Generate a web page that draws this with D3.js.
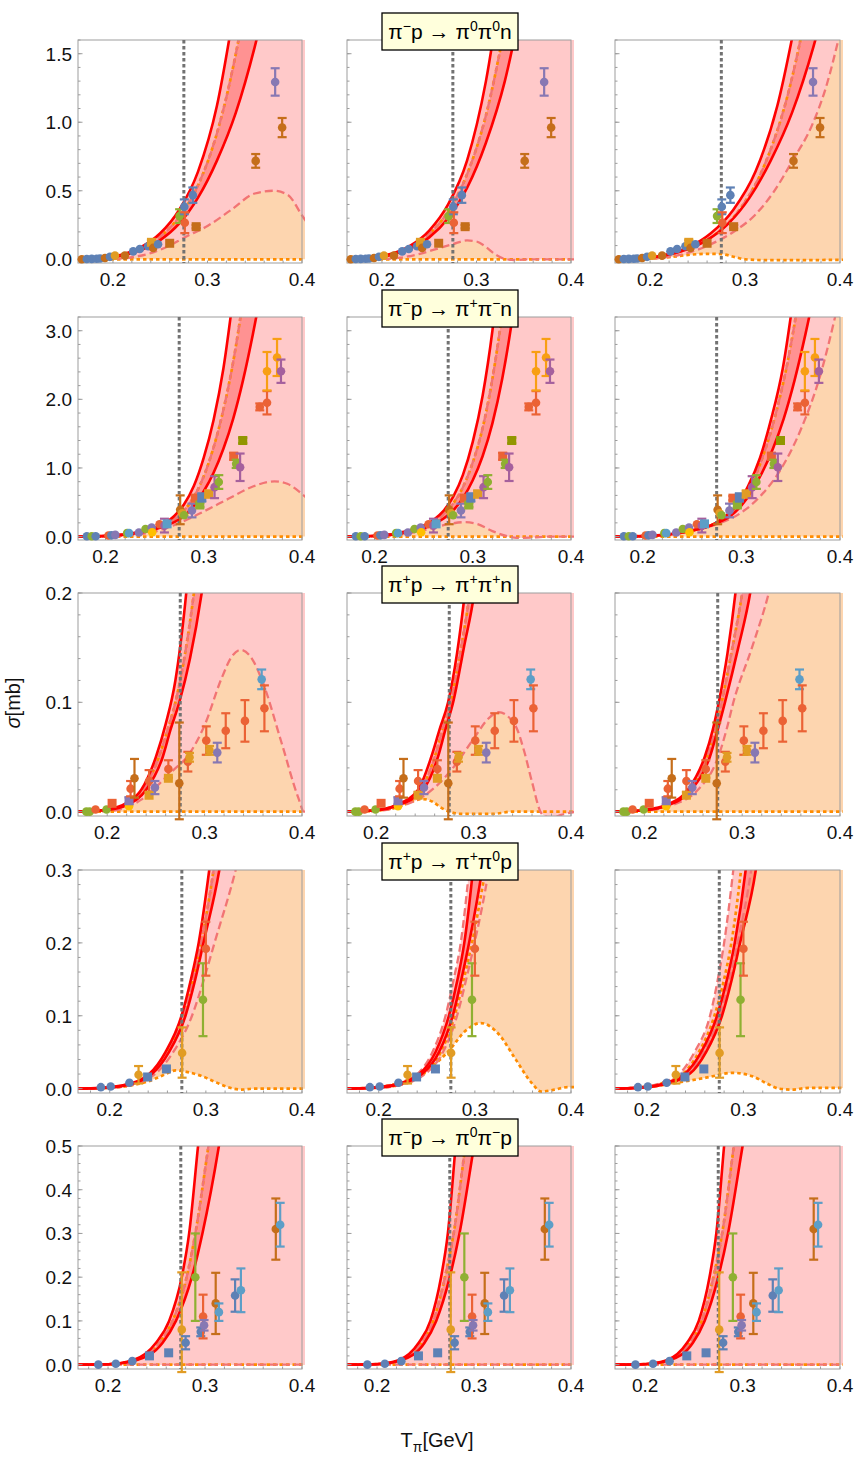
<!DOCTYPE html>
<html>
<head>
<meta charset="utf-8">
<script src="https://cdn.jsdelivr.net/npm/d3@7"></script>
<style>
  body { margin: 0; background: #fff; }
  svg { display: block; }
  text { font-family: "Liberation Sans", Arial, sans-serif; }
</style>
</head>
<body>
<div id="chart"></div>
<script>
// ---- data ----
// each curve is a list of [T_pi (GeV), sigma (mb)], one list per column
const r1RedHi = [
  [[0.163,0],[0.19,0.01],[0.21,0.035],[0.23,0.09],[0.25,0.19],[0.27,0.36],[0.29,0.64],[0.31,1.12],[0.33,1.9]],
  [[0.163,0],[0.19,0.012],[0.21,0.04],[0.23,0.1],[0.25,0.21],[0.27,0.4],[0.29,0.72],[0.31,1.3],[0.33,2.2]],
  [[0.163,0],[0.194,0.01],[0.2175,0.035],[0.241,0.09],[0.264,0.19],[0.2875,0.36],[0.311,0.64],[0.334,1.12],[0.3576,1.9]]
]
const r1RedLo = [
  [[0.163,0],[0.19,0.008],[0.21,0.028],[0.23,0.07],[0.25,0.14],[0.27,0.26],[0.29,0.45],[0.31,0.72],[0.33,1.07],[0.35,1.55],[0.37,2.15]],
  [[0.163,0],[0.19,0.009],[0.21,0.032],[0.23,0.08],[0.25,0.16],[0.27,0.3],[0.29,0.52],[0.31,0.85],[0.33,1.3],[0.35,1.95]],
  [[0.163,0],[0.193,0.008],[0.2153,0.028],[0.2377,0.07],[0.26,0.14],[0.2824,0.26],[0.3048,0.45],[0.327,0.72],[0.3495,1.07],[0.372,1.55],[0.394,2.15]]
]
const r1Mid = [
  [[0.163,0],[0.19,0.009],[0.21,0.032],[0.23,0.08],[0.25,0.165],[0.27,0.31],[0.29,0.54],[0.31,0.92],[0.33,1.5],[0.35,2.3]],
  [[0.163,0],[0.19,0.01],[0.21,0.036],[0.23,0.09],[0.25,0.185],[0.27,0.35],[0.29,0.62],[0.31,1.05],[0.33,1.7]],
  [[0.163,0],[0.195,0.01],[0.22,0.035],[0.245,0.09],[0.27,0.19],[0.295,0.37],[0.32,0.68],[0.345,1.2],[0.37,2.0]]
]
const r1PinkLo = [
  [[0.163,0],[0.2,0.003],[0.22,0.015],[0.24,0.045],[0.26,0.1],[0.275,0.157],[0.3,0.243],[0.325,0.36],[0.35,0.48],[0.37,0.5],[0.385,0.47],[0.4,0.32],[0.405,0.27]],
  [[0.163,0],[0.2,0.003],[0.22,0.012],[0.24,0.04],[0.26,0.08],[0.275,0.11],[0.29,0.138],[0.3,0.13],[0.31,0.09],[0.32,0.035],[0.33,0.002],[0.34,-0.005],[0.36,0],[0.405,0]],
  [[0.163,0],[0.2,0.005],[0.23,0.03],[0.25,0.07],[0.27,0.13],[0.29,0.21],[0.31,0.32],[0.33,0.49],[0.35,0.72],[0.37,0.97],[0.385,1.25],[0.4,1.65]]
]
const r1OrLo = [
  [[0.163,0],[0.405,0]],
  [[0.163,0],[0.405,0]],
  [[0.163,0],[0.2,0.005],[0.22,0.015],[0.24,0.032],[0.26,0.04],[0.275,0.038],[0.29,0.015],[0.3,0],[0.32,-0.006],[0.36,-0.006],[0.405,-0.003]]
]

const r2RedHi = [
  [[0.172,0],[0.2,0.01],[0.22,0.035],[0.24,0.09],[0.26,0.19],[0.27,0.3],[0.28,0.47],[0.29,0.74],[0.3,1.15],[0.31,1.7],[0.32,2.45],[0.33,3.5]],
  [[0.172,0],[0.2,0.012],[0.22,0.042],[0.24,0.11],[0.26,0.24],[0.27,0.37],[0.28,0.58],[0.29,0.9],[0.3,1.38],[0.31,2.05],[0.32,3.0],[0.33,4.3]],
  [[0.172,0],[0.204,0.01],[0.227,0.035],[0.25,0.09],[0.273,0.19],[0.284,0.3],[0.296,0.47],[0.307,0.74],[0.319,1.15],[0.33,1.7],[0.342,2.45],[0.353,3.5]]
]
const r2RedLo = [
  [[0.172,0],[0.2,0.008],[0.22,0.028],[0.24,0.07],[0.26,0.15],[0.27,0.21],[0.28,0.3],[0.29,0.45],[0.3,0.66],[0.31,0.93],[0.32,1.28],[0.33,1.72],[0.34,2.28],[0.35,2.95],[0.36,3.7]],
  [[0.172,0],[0.2,0.009],[0.22,0.032],[0.24,0.08],[0.26,0.18],[0.27,0.26],[0.28,0.38],[0.29,0.56],[0.3,0.82],[0.31,1.17],[0.32,1.65],[0.33,2.3],[0.34,3.15],[0.35,4.2]],
  [[0.172,0],[0.202,0.008],[0.224,0.028],[0.2455,0.07],[0.267,0.15],[0.278,0.21],[0.289,0.3],[0.3,0.45],[0.3105,0.66],[0.321,0.93],[0.332,1.28],[0.343,1.72],[0.354,2.28],[0.365,2.95],[0.376,3.7]]
]
const r2Mid = [
  [[0.172,0],[0.2,0.009],[0.22,0.032],[0.24,0.08],[0.26,0.17],[0.28,0.38],[0.29,0.58],[0.3,0.88],[0.31,1.3],[0.32,1.85],[0.33,2.55],[0.34,3.45]],
  [[0.172,0],[0.2,0.01],[0.22,0.037],[0.24,0.095],[0.26,0.21],[0.27,0.32],[0.28,0.48],[0.29,0.72],[0.3,1.08],[0.31,1.58],[0.32,2.3],[0.33,3.25],[0.34,4.4]],
  [[0.172,0],[0.203,0.009],[0.2255,0.032],[0.248,0.08],[0.27,0.17],[0.292,0.38],[0.303,0.58],[0.314,0.88],[0.325,1.3],[0.336,1.85],[0.347,2.55],[0.358,3.45]]
]
const r2PinkLo = [
  [[0.172,0],[0.2,0.003],[0.225,0.02],[0.25,0.073],[0.275,0.195],[0.3,0.366],[0.325,0.55],[0.35,0.73],[0.372,0.805],[0.385,0.77],[0.4,0.62],[0.405,0.56]],
  [[0.172,0],[0.2,0.005],[0.22,0.02],[0.24,0.06],[0.255,0.11],[0.275,0.18],[0.292,0.21],[0.305,0.18],[0.32,0.08],[0.335,0.005],[0.345,-0.02],[0.36,-0.015],[0.38,0],[0.405,0]],
  [[0.172,0],[0.2,0.005],[0.225,0.03],[0.25,0.08],[0.275,0.18],[0.3,0.35],[0.32,0.6],[0.34,0.98],[0.36,1.55],[0.38,2.35],[0.395,3.2],[0.41,4.2]]
]
const r2OrLo = [
  [[0.172,0],[0.405,0]],
  [[0.172,0],[0.405,0]],
  [[0.172,0],[0.405,0]]
]

const r3RedHi = [
  [[0.17,0],[0.2,0.002],[0.22,0.008],[0.235,0.02],[0.25,0.05],[0.26,0.08],[0.27,0.12],[0.28,0.19],[0.29,0.29]],
  [[0.17,0],[0.2,0.0015],[0.22,0.006],[0.243,0.02],[0.2565,0.05],[0.265,0.075],[0.2738,0.1],[0.283,0.145],[0.291,0.2],[0.3,0.28]],
  [[0.17,0],[0.2,0.0015],[0.225,0.007],[0.2445,0.02],[0.2617,0.05],[0.27,0.075],[0.2761,0.1],[0.285,0.145],[0.2931,0.2],[0.3,0.26]]
]
const r3RedLo = [
  [[0.17,0],[0.2,0.0015],[0.22,0.006],[0.24,0.02],[0.257,0.05],[0.265,0.075],[0.274,0.1],[0.285,0.14],[0.297,0.2],[0.31,0.29]],
  [[0.17,0],[0.2,0.001],[0.22,0.005],[0.248,0.02],[0.2634,0.05],[0.271,0.075],[0.279,0.1],[0.29,0.15],[0.3007,0.2],[0.31,0.27]],
  [[0.17,0],[0.2,0.0012],[0.225,0.006],[0.248,0.02],[0.2669,0.05],[0.275,0.075],[0.2824,0.1],[0.296,0.15],[0.3082,0.2],[0.315,0.24]]
]
const r3Mid = [
  [[0.17,0],[0.2,0.0018],[0.22,0.007],[0.237,0.02],[0.253,0.05],[0.262,0.075],[0.27,0.1],[0.28,0.145],[0.289,0.2],[0.3,0.29]],
  [[0.17,0],[0.2,0.0012],[0.22,0.0055],[0.2455,0.02],[0.26,0.05],[0.268,0.075],[0.2764,0.1],[0.2865,0.147],[0.296,0.2],[0.305,0.275]],
  [[0.17,0],[0.2,0.0013],[0.225,0.0065],[0.246,0.02],[0.264,0.05],[0.2725,0.075],[0.279,0.1],[0.29,0.15],[0.3,0.2],[0.31,0.27]]
]
const r3PinkLo = [
  [[0.17,0],[0.2,0.0005],[0.22,0.004],[0.235,0.011],[0.2517,0.024],[0.268,0.038],[0.2828,0.051],[0.3,0.079],[0.317,0.121],[0.328,0.142],[0.337,0.148],[0.347,0.142],[0.3586,0.121],[0.379,0.063],[0.3966,0.0116],[0.402,0],[0.405,0]],
  [[0.17,0],[0.2,0.0005],[0.225,0.005],[0.24,0.01],[0.25,0.015],[0.26,0.022],[0.2806,0.042],[0.301,0.068],[0.315,0.085],[0.3255,0.091],[0.3427,0.079],[0.352,0.055],[0.36,0.027],[0.37,-0.002],[0.38,-0.006],[0.39,-0.003],[0.405,0]],
  [[0.17,0],[0.2,0.001],[0.225,0.005],[0.2548,0.02],[0.2755,0.05],[0.284,0.075],[0.291,0.1],[0.31,0.15],[0.3272,0.2],[0.34,0.25]]
]
const r3OrLo = [
  [[0.17,0],[0.405,0]],
  [[0.17,0],[0.2,0.001],[0.222,0.004],[0.236,0.009],[0.248,0.0115],[0.258,0.009],[0.266,0.004],[0.275,0],[0.287,-0.002],[0.32,-0.002],[0.34,0],[0.405,0]],
  [[0.17,0],[0.405,0]]
]

const r4RedHi = [
  [[0.167,0],[0.19,0.001],[0.215,0.005],[0.241,0.02],[0.258,0.05],[0.2747,0.1],[0.2845,0.15],[0.2925,0.2],[0.3035,0.3],[0.31,0.37]],
  [[0.167,0],[0.19,0.001],[0.215,0.005],[0.242,0.02],[0.259,0.05],[0.273,0.1],[0.282,0.15],[0.289,0.2],[0.298,0.3],[0.303,0.37]],
  [[0.167,0],[0.19,0.0012],[0.215,0.006],[0.24,0.021],[0.2562,0.05],[0.2727,0.1],[0.283,0.15],[0.291,0.2],[0.3023,0.3],[0.308,0.37]]
]
const r4RedLo = [
  [[0.167,0],[0.19,0.0008],[0.215,0.004],[0.2438,0.02],[0.2616,0.05],[0.2788,0.1],[0.289,0.15],[0.2975,0.2],[0.314,0.3],[0.32,0.35]],
  [[0.167,0],[0.19,0.0008],[0.215,0.004],[0.245,0.02],[0.2627,0.05],[0.277,0.1],[0.286,0.15],[0.294,0.2],[0.3075,0.3],[0.312,0.34]],
  [[0.167,0],[0.19,0.001],[0.215,0.005],[0.245,0.021],[0.2613,0.05],[0.2778,0.1],[0.288,0.15],[0.2965,0.2],[0.3128,0.3],[0.318,0.35]]
]
const r4PinkHi = [
  [[0.167,0],[0.19,0.0009],[0.215,0.0045],[0.2425,0.02],[0.26,0.05],[0.2768,0.1],[0.2868,0.15],[0.295,0.2],[0.308,0.3],[0.315,0.37]],
  [[0.167,0],[0.19,0.0012],[0.215,0.006],[0.24,0.02],[0.2558,0.05],[0.2695,0.1],[0.278,0.15],[0.2853,0.2],[0.294,0.3],[0.299,0.37]],
  [[0.167,0],[0.19,0.0016],[0.215,0.008],[0.235,0.022],[0.2493,0.05],[0.2654,0.1],[0.2735,0.15],[0.28,0.2],[0.2895,0.3],[0.296,0.38]]
]
const r4PinkLo = [
  [[0.167,0],[0.19,0.0005],[0.215,0.003],[0.247,0.02],[0.266,0.05],[0.2856,0.1],[0.298,0.15],[0.309,0.2],[0.331,0.3],[0.34,0.35]],
  [[0.167,0],[0.19,0.0006],[0.215,0.003],[0.248,0.02],[0.2668,0.05],[0.2815,0.1],[0.291,0.15],[0.2997,0.2],[0.3144,0.3],[0.32,0.35]],
  [[0.167,0],[0.19,0.001],[0.215,0.0055],[0.243,0.021],[0.259,0.05],[0.2755,0.1],[0.2855,0.15],[0.294,0.2],[0.308,0.3],[0.313,0.35]]
]
const r4OrHi = [
  [[0.167,0],[0.19,0.0009],[0.215,0.0045],[0.2425,0.02],[0.26,0.05],[0.2768,0.1],[0.2868,0.15],[0.295,0.2],[0.308,0.3],[0.315,0.37]],
  [[0.167,0],[0.19,0.0007],[0.215,0.0035],[0.2465,0.02],[0.2645,0.05],[0.279,0.1],[0.2885,0.15],[0.297,0.2],[0.311,0.3],[0.316,0.34]],
  [[0.167,0],[0.19,0.0014],[0.215,0.007],[0.238,0.021],[0.2538,0.05],[0.27,0.1],[0.28,0.15],[0.2875,0.2],[0.2975,0.3],[0.303,0.37]]
]
const r4OrLo = [
  [[0.167,0],[0.2,0.001],[0.22,0.004],[0.24,0.01],[0.255,0.018],[0.2685,0.025],[0.28,0.023],[0.296,0.017],[0.31,0.009],[0.323,0.002],[0.337,-0.0014],[0.35,0],[0.405,0]],
  [[0.167,0],[0.198,0.002],[0.222,0.008],[0.239,0.017],[0.256,0.031],[0.273,0.052],[0.29,0.079],[0.306,0.09],[0.3247,0.075],[0.342,0.041],[0.359,0.008],[0.369,-0.004],[0.383,-0.0014],[0.3966,0.002],[0.405,0.002]],
  [[0.167,0],[0.2,0.002],[0.2305,0.008],[0.2613,0.015],[0.289,0.0217],[0.3093,0.017],[0.323,0.008],[0.3367,0],[0.35,-0.0014],[0.3675,0.001],[0.405,0.001]]
]

const r5RedHi = [
  [[0.169,0],[0.2,0.001],[0.2256,0.01],[0.2495,0.05],[0.263,0.1],[0.276,0.2],[0.2836,0.3],[0.2928,0.5],[0.3,0.65]],
  [[0.169,0],[0.2,0.0015],[0.222,0.01],[0.243,0.05],[0.255,0.1],[0.266,0.2],[0.273,0.3],[0.281,0.5],[0.287,0.65]],
  [[0.169,0],[0.2,0.0015],[0.222,0.01],[0.243,0.05],[0.255,0.1],[0.266,0.2],[0.273,0.3],[0.281,0.5],[0.287,0.65]]
]
const r5RedLo = [
  [[0.169,0],[0.2,0.0008],[0.229,0.01],[0.2563,0.05],[0.27,0.1],[0.2864,0.2],[0.2973,0.3],[0.3143,0.5],[0.32,0.58]],
  [[0.169,0],[0.2,0.001],[0.225,0.01],[0.249,0.05],[0.261,0.1],[0.275,0.2],[0.285,0.3],[0.3,0.5],[0.306,0.58]],
  [[0.169,0],[0.2,0.001],[0.225,0.01],[0.249,0.05],[0.261,0.1],[0.275,0.2],[0.285,0.3],[0.3,0.5],[0.306,0.58]]
]
const r5Mid = [
  [[0.169,0],[0.2,0.0009],[0.2275,0.01],[0.253,0.05],[0.2665,0.1],[0.281,0.2],[0.29,0.3],[0.3035,0.5],[0.31,0.6]],
  [[0.169,0],[0.2,0.0012],[0.2235,0.01],[0.246,0.05],[0.258,0.1],[0.27,0.2],[0.279,0.3],[0.291,0.5],[0.297,0.6]],
  [[0.169,0],[0.2,0.0012],[0.2235,0.01],[0.246,0.05],[0.258,0.1],[0.27,0.2],[0.279,0.3],[0.291,0.5],[0.297,0.6]]
]
const r5Flat = [
  [[0.169,0],[0.405,0]],
  [[0.169,0],[0.405,0]],
  [[0.169,0],[0.405,0]]
]

// measured points: [T, sigma, error below, error above, data set]
const r1Data = [
  [0.167,0,0,0,"brown"],[0.1723,0.002,0,0,"blue"],[0.1775,0.003,0,0,"blue"],[0.1828,0.004,0,0,"blue"],
  [0.1863,0.006,0,0,"blue"],[0.1916,0.01,0,0,"brown"],[0.1968,0.018,0,0,"blue"],[0.2021,0.027,0,0,"orange"],
  [0.2126,0.027,0,0,"brown"],[0.2214,0.058,0,0,"blue"],[0.2284,0.075,0,0,"blue"],[0.2372,0.095,0,0,"blue"],
  [0.2407,0.124,0.015,0.015,"orangeSq"],[0.2425,0.083,0,0,"brown"],[0.2477,0.11,0,0,"blue"],[0.26,0.117,0,0,"brownSq"],
  [0.2705,0.315,0.05,0.05,"green"],[0.2755,0.383,0.054,0.054,"blue"],[0.276,0.267,0.076,0.076,"red"],
  [0.2845,0.468,0.056,0.056,"blue"],[0.288,0.238,0.012,0.012,"brownSq"],[0.351,0.718,0.05,0.05,"brown"],
  [0.3716,1.294,0.1,0.1,"purple"],[0.379,0.961,0.07,0.07,"brown"]
]
const r2Data = [
  [0.181,0.005,0,0,"blue"],[0.186,0.005,0,0,"green"],[0.19,0.005,0,0,"blue"],[0.203,0.015,0,0,"red"],
  [0.206,0.018,0,0,"blue"],[0.21,0.025,0,0,"purple"],[0.222,0.05,0,0,"green"],[0.224,0.05,0,0,"lightblue"],
  [0.234,0.06,0,0,"purple"],[0.2407,0.11,0,0,"green"],[0.247,0.13,0,0,"purple"],[0.2475,0.063,0,0,"yellow"],
  [0.255,0.18,0,0,"red"],[0.26,0.16,0.1,0.1,"magenta"],[0.2627,0.185,0,0,"lightblueSq"],[0.276,0.39,0.21,0.21,"brown"],
  [0.278,0.34,0,0,"orange"],[0.28,0.31,0,0,"green"],[0.288,0.38,0.1,0.1,"purple"],[0.2915,0.56,0.03,0.03,"redSq"],
  [0.296,0.46,0.03,0.03,"greenSq"],[0.298,0.57,0.06,0.06,"blueSq"],[0.305,0.62,0.05,0.05,"orangeSq"],
  [0.311,0.72,0.16,0.16,"magenta"],[0.3153,0.795,0.1,0.1,"green"],[0.3305,1.17,0.05,0.05,"redSq"],
  [0.333,1.06,0.06,0.06,"green"],[0.337,1.01,0.2,0.2,"magenta"],[0.3397,1.4,0.04,0.04,"oliveSq"],
  [0.357,1.89,0.05,0.05,"red"],[0.3644,1.95,0.17,0.17,"red"],[0.3644,2.41,0.28,0.28,"amber"],
  [0.3746,2.61,0.27,0.27,"amber"],[0.3786,2.41,0.17,0.17,"magenta"]
]
const r3Data = [
  [0.1786,0,0,0,"green"],[0.182,0,0,0,"green"],[0.188,0.002,0,0,"red"],[0.1993,0.002,0,0,"green"],
  [0.205,0.0076,0,0,"redSq"],[0.2224,0.005,0,0,"yellow"],[0.2224,0.01,0.003,0.003,"purpleSq"],
  [0.224,0.021,0.007,0.007,"red"],[0.228,0.0305,0.0177,0.0177,"brown"],[0.243,0.028,0.01,0.01,"red"],
  [0.243,0.015,0,0,"orangeSq"],[0.249,0.022,0.006,0.006,"purple"],[0.2628,0.039,0.008,0.008,"red"],
  [0.2628,0.0305,0,0,"orangeSq"],[0.274,0.026,0.033,0.0555,"brown"],[0.2828,0.0457,0.009,0.009,"red"],
  [0.2845,0.0497,0.004,0.004,"orange"],[0.3017,0.065,0.013,0.013,"red"],[0.305,0.056,0.004,0.004,"orange"],
  [0.313,0.054,0.009,0.009,"purple"],[0.3217,0.074,0.016,0.016,"red"],[0.3414,0.083,0.019,0.019,"red"],
  [0.3586,0.121,0.009,0.009,"lightblue"],[0.3614,0.0945,0.021,0.021,"red"]
]
const r4Data = [
  [0.1908,0.002,0,0,"blue"],[0.201,0.003,0,0,"blue"],[0.2205,0.008,0,0,"blue"],[0.23,0.019,0.012,0.012,"orange"],
  [0.2394,0.016,0,0,"blueSq"],[0.259,0.027,0,0,"blueSq"],[0.2753,0.049,0.034,0.035,"orange"],
  [0.297,0.122,0.05,0.05,"green"],[0.3,0.192,0.037,0.037,"red"]
]
const r5Data = [
  [0.19,0,0,0,"blue"],[0.208,0.002,0,0,"blue"],[0.225,0.008,0,0,"blue"],[0.2427,0.02,0,0,"blueSq"],
  [0.2625,0.027,0,0,"blueSq"],[0.276,0.08,0.097,0.131,"orange"],[0.28,0.05,0.015,0.015,"blue"],
  [0.29,0.2,0.1,0.1,"green"],[0.2956,0.075,0.01,0.01,"blue"],[0.298,0.11,0.05,0.05,"red"],
  [0.299,0.09,0.012,0.012,"purple"],[0.311,0.14,0.07,0.07,"brown"],[0.3143,0.12,0.02,0.02,"lightblue"],
  [0.331,0.158,0.037,0.037,"blue"],[0.337,0.17,0.05,0.05,"lightblue"],[0.373,0.31,0.07,0.07,"brown"],
  [0.3775,0.32,0.05,0.05,"lightblue"]
]

// reaction labels: [text, superscript] pieces
const reactions = [
  [["π","−"],["p → π","0"],["π","0"],["n",""]],
  [["π","−"],["p → π","+"],["π","−"],["n",""]],
  [["π","+"],["p → π","+"],["π","+"],["n",""]],
  [["π","+"],["p → π","+"],["π","0"],["p",""]],
  [["π","−"],["p → π","0"],["π","−"],["p",""]]
]

// axis settings per row
const rowXMin = [0.163, 0.172, 0.170, 0.167, 0.169]
const rowYRange = [[-0.027, 1.6], [-0.05, 3.2], [-0.004, 0.2], [-0.006, 0.3], [-0.01, 0.5]]
const rowYTicks = [[0, 0.5, 1.0, 1.5], [0, 1, 2, 3], [0, 0.1, 0.2], [0, 0.1, 0.2, 0.3], [0, 0.1, 0.2, 0.3, 0.4, 0.5]]
const rowYMinor = [0.1, 0.2, 0.02, 0.02, 0.02]
const xTicks = [0.2, 0.3, 0.4]
const thresholdT = 0.275

const rows = [
  {redHi: r1RedHi, redLo: r1RedLo, pinkHi: r1Mid, pinkLo: r1PinkLo, orHi: r1Mid, orLo: r1OrLo, data: r1Data},
  {redHi: r2RedHi, redLo: r2RedLo, pinkHi: r2Mid, pinkLo: r2PinkLo, orHi: r2Mid, orLo: r2OrLo, data: r2Data},
  {redHi: r3RedHi, redLo: r3RedLo, pinkHi: r3Mid, pinkLo: r3PinkLo, orHi: r3Mid, orLo: r3OrLo, data: r3Data},
  {redHi: r4RedHi, redLo: r4RedLo, pinkHi: r4PinkHi, pinkLo: r4PinkLo, orHi: r4OrHi, orLo: r4OrLo, data: r4Data},
  {redHi: r5RedHi, redLo: r5RedLo, pinkHi: r5Mid, pinkLo: r5Flat, orHi: r5Mid, orLo: r5Flat, data: r5Data}
]

// marker styles per data set
const setStyle = {
  blue: ["#5E81B5", "circle"], blueSq: ["#5E81B5", "square"],
  orange: ["#E19C24", "circle"], orangeSq: ["#E19C24", "square"],
  green: ["#8FB032", "circle"], greenSq: ["#8FB032", "square"],
  red: ["#EB6235", "circle"], redSq: ["#EB6235", "square"],
  purple: ["#8778B3", "circle"], purpleSq: ["#8778B3", "square"],
  brown: ["#C56E1A", "circle"], brownSq: ["#C56E1A", "square"],
  lightblue: ["#5D9EC7", "circle"], lightblueSq: ["#5D9EC7", "square"],
  yellow: ["#FFBF00", "circle"], magenta: ["#A5609D", "circle"],
  oliveSq: ["#929600", "square"], amber: ["#F89F13", "circle"]
}

// ---- layout ----
const width = 865, height = 1457
const colLeft = [78, 347, 615]
const panelW = 224, panelH = 223
const rowTop = [40, 317, 593, 870, 1146]

const svg = d3.select("#chart").append("svg")
  .attr("width", width)
  .attr("height", height)

// band between two curves; closes along the top edge when curves leave the frame
function bandPath(upper, lower, x, y, top, right) {
  let line = d3.line().x(d => x(d[0])).y(d => y(d[1])).curve(d3.curveMonotoneX)
  let uEnd = upper[upper.length - 1]
  let lEnd = lower[lower.length - 1]
  let ymax = y.domain()[1]
  let s = line(upper) + `L${x(uEnd[0])},${top - 30}`
  if (lEnd[1] > ymax) {
    s += `L${x(lEnd[0])},${top - 30}`
  } else {
    s += `L${right},${top - 30}L${right},${y(lEnd[1])}`
  }
  s += line(lower.slice().reverse()).replace(/^M/, "L") + "Z"
  return s
}

function drawPanel(r, c) {
  let L = colLeft[c], T = rowTop[r]
  let W = c == 2 ? panelW + 1 : panelW
  let cur = rows[r]

  let x = d3.scaleLinear().domain([rowXMin[r], 0.4]).range([L, L + W])
  let y = d3.scaleLinear().domain(rowYRange[r]).range([T + panelH, T])
  let line = d3.line().x(d => x(d[0])).y(d => y(d[1])).curve(d3.curveMonotoneX)

  let clipId = `clip-${r}-${c}`
  svg.append("clipPath").attr("id", clipId)
    .append("rect")
    .attr("x", L).attr("y", T)
    .attr("width", W + 3).attr("height", panelH)

  let g = svg.append("g").attr("clip-path", `url(#${clipId})`)
  let right = L + W + 10

  // filled bands
  g.append("path")
    .attr("d", bandPath(cur.orHi[c], cur.orLo[c], x, y, T, right))
    .attr("fill", "#FDD5AF")
  g.append("path")
    .attr("d", bandPath(cur.pinkHi[c], cur.pinkLo[c], x, y, T, right))
    .attr("fill", "#FFC9C9")
  g.append("path")
    .attr("d", bandPath(cur.redHi[c], cur.redLo[c], x, y, T, right))
    .attr("fill", "#FF0000")
    .attr("fill-opacity", 0.27)

  // curves
  ;[cur.orLo[c], cur.orHi[c]].forEach(d => {
    g.append("path").attr("d", line(d))
      .attr("fill", "none").attr("stroke", "#FF8C00")
      .attr("stroke-width", 2.7).attr("stroke-dasharray", "3.5,3")
  })
  ;[cur.pinkLo[c], cur.pinkHi[c]].forEach(d => {
    g.append("path").attr("d", line(d))
      .attr("fill", "none").attr("stroke", "#F27474")
      .attr("stroke-width", 2.3).attr("stroke-dasharray", "8,4")
  })
  ;[cur.redHi[c], cur.redLo[c]].forEach(d => {
    g.append("path").attr("d", line(d))
      .attr("fill", "none").attr("stroke", "#FF0000")
      .attr("stroke-width", 2.6)
  })

  // frame
  svg.append("rect")
    .attr("x", L).attr("y", T)
    .attr("width", W).attr("height", panelH)
    .attr("fill", "none").attr("stroke", "#9d9d9d").attr("stroke-width", 1)

  // y ticks
  let yMinor = d3.range(0, rowYRange[r][1] + 1e-9, rowYMinor[r])
  svg.append("g").selectAll("line")
    .data(yMinor)
    .join("line")
    .attr("x1", L).attr("x2", L + 2.5)
    .attr("y1", d => y(d)).attr("y2", d => y(d))
    .attr("stroke", "#9d9d9d")
  svg.append("g").selectAll("line")
    .data(rowYTicks[r])
    .join("line")
    .attr("x1", L).attr("x2", L + 4.5)
    .attr("y1", d => y(d)).attr("y2", d => y(d))
    .attr("stroke", "#9d9d9d")
  if (c == 0) {
    svg.append("g").selectAll("text")
      .data(rowYTicks[r])
      .join("text")
      .attr("x", L - 6)
      .attr("y", d => y(d) + 7)
      .attr("text-anchor", "end")
      .attr("font-size", 19)
      .attr("fill", "#111")
      .text(d => d3.format(".1f")(d))
  }

  // x ticks
  let xMinor = d3.range(0.18, 0.401, 0.02).filter(v => v >= rowXMin[r])
  svg.append("g").selectAll("line")
    .data(xMinor)
    .join("line")
    .attr("x1", d => x(d)).attr("x2", d => x(d))
    .attr("y1", T + panelH).attr("y2", T + panelH - 2.5)
    .attr("stroke", "#9d9d9d")
  svg.append("g").selectAll("text")
    .data(xTicks)
    .join("text")
    .attr("x", d => x(d))
    .attr("y", T + panelH + 23)
    .attr("text-anchor", "middle")
    .attr("font-size", 19)
    .attr("fill", "#111")
    .text(d => d3.format(".1f")(d))

  // threshold line
  svg.append("line")
    .attr("x1", x(thresholdT)).attr("x2", x(thresholdT))
    .attr("y1", T).attr("y2", T + panelH)
    .attr("stroke", "#727272")
    .attr("stroke-width", 3)
    .attr("stroke-dasharray", "3.5,2.5")

  // data points with error bars
  let pts = svg.append("g")
  cur.data.forEach(d => {
    let col = setStyle[d[4]][0], shape = setStyle[d[4]][1]
    let px = x(d[0]), py = y(d[1])
    if (d[2] > 0 || d[3] > 0) {
      let y0 = y(d[1] - d[2]), y1 = y(d[1] + d[3])
      pts.append("line").attr("x1", px).attr("x2", px).attr("y1", y0).attr("y2", y1)
        .attr("stroke", col).attr("stroke-width", 2.2)
      ;[y0, y1].forEach(v => {
        pts.append("line").attr("x1", px - 4.5).attr("x2", px + 4.5).attr("y1", v).attr("y2", v)
          .attr("stroke", col).attr("stroke-width", 2.2)
      })
    }
    if (shape == "square") {
      pts.append("rect").attr("x", px - 4.5).attr("y", py - 4.5)
        .attr("width", 9).attr("height", 9).attr("fill", col)
    } else {
      pts.append("circle").attr("cx", px).attr("cy", py).attr("r", 4.3).attr("fill", col)
    }
  })
}

for (let r = 0; r < 5; r++) {
  for (let c = 0; c < 3; c++) drawPanel(r, c)
}

// reaction boxes over the middle column
reactions.forEach((parts, r) => {
  let top = rowTop[r] - 27
  svg.append("rect")
    .attr("x", 382).attr("y", top)
    .attr("width", 136).attr("height", 37)
    .attr("fill", "#FFFFDC")
    .attr("stroke", "#000").attr("stroke-width", 1.3)
  let t = svg.append("text")
    .attr("x", 450).attr("y", top + 26)
    .attr("text-anchor", "middle")
    .attr("font-size", 21)
    .attr("fill", "#000")
  let raised = false
  parts.forEach(p => {
    let base = t.append("tspan").text(p[0])
    if (raised) base.attr("dy", 8)
    raised = false
    if (p[1]) {
      t.append("tspan").attr("dy", -8).attr("font-size", 14).text(p[1])
      raised = true
    }
  })
})

// axis titles
let yTitle = svg.append("text")
  .attr("transform", "translate(20,703) rotate(-90)")
  .attr("text-anchor", "middle")
  .attr("font-size", 20)
  .attr("fill", "#111")
yTitle.append("tspan").attr("font-style", "italic").text("σ")
yTitle.append("tspan").text("[mb]")

let xTitle = svg.append("text")
  .attr("x", 437).attr("y", 1447)
  .attr("text-anchor", "middle")
  .attr("font-size", 20)
  .attr("fill", "#111")
xTitle.append("tspan").text("T")
xTitle.append("tspan").attr("dy", 5).attr("font-size", 14).text("π")
xTitle.append("tspan").attr("dy", -5).attr("font-size", 20).text("[GeV]")
</script>
</body>
</html>
